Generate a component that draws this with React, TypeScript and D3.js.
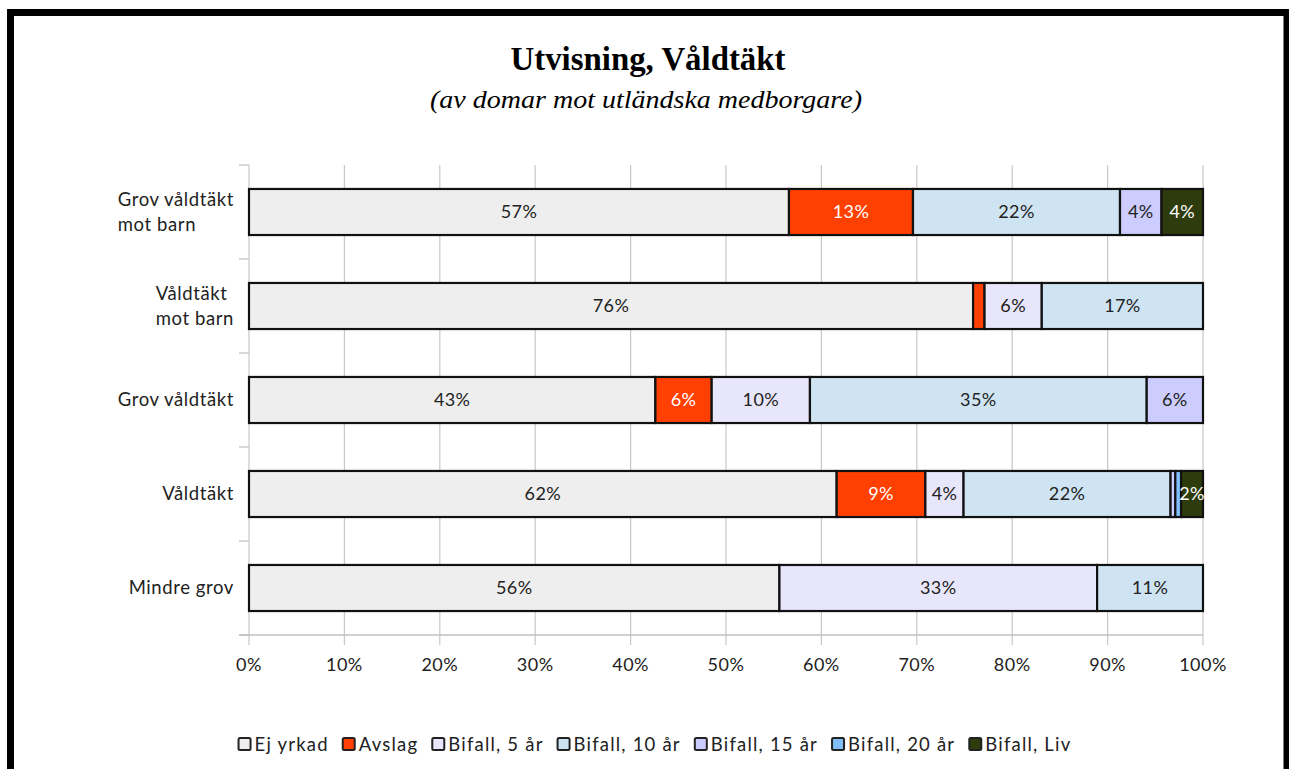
import React, { useEffect, useRef } from "react";
import * as d3 from "d3";

const categories = ["Grov våldtäkt|mot barn", "Våldtäkt|mot barn", "Grov våldtäkt", "Våldtäkt", "Mindre grov"];
const seriesNames = ["Ej yrkad", "Avslag", "Bifall, 5 år", "Bifall, 10 år", "Bifall, 15 år", "Bifall, 20 år", "Bifall, Liv"];
const ejYrkad = [56.6, 75.9, 42.6, 61.6, 55.6];
const avslag = [13.0, 1.2, 5.9, 9.3, 0];
const bifall5 = [0, 6.0, 10.3, 4.0, 33.3];
const bifall10 = [21.7, 16.9, 35.3, 21.7, 11.1];
const bifall15 = [4.35, 0, 5.9, 0.5, 0];
const bifall20 = [0, 0, 0, 0.6, 0];
const bifallLiv = [4.35, 0, 0, 2.3, 0];
const seriesColors = ["#eeeeee", "#ff4000", "#e8e6fb", "#cfe4f3", "#ccccff", "#80c0ff", "#2e3b0c"];
const labelColors = ["#222", "#fff", "#222", "#222", "#222", "#222", "#fff"];
const xTicks = [0, 10, 20, 30, 40, 50, 60, 70, 80, 90, 100];

const W = 1289, H = 769;
const FONT = "Lato, 'Open Sans', sans-serif";

export default function App() {
  const ref = useRef<SVGSVGElement>(null);
  useEffect(() => {
    const svg = d3.select(ref.current);
    svg.selectAll("*").remove();
    const series = [ejYrkad, avslag, bifall5, bifall10, bifall15, bifall20, bifallLiv];
    const rows = categories.map((c, i) => {
      const r: any = { cat: c };
      seriesNames.forEach((s, j) => (r[s] = series[j][i]));
      return r;
    });
    const stack = d3.stack<any>().keys(seriesNames)(rows);

    const x = d3.scaleLinear().domain([0, 100]).range([249, 1203]);
    const y = d3.scaleBand<string>().domain(categories).range([165, 635]).paddingInner(0.51).paddingOuter(0.255);
    const band = d3.scaleBand<string>().domain(categories).range([165, 635]);

    svg.append("rect").attr("width", W).attr("height", H).attr("fill", "#fff");
    svg.append("rect").attr("x", 10.5).attr("y", 12.5).attr("width", 1276.5).attr("height", 820)
      .attr("fill", "none").attr("stroke", "#000").attr("stroke-width", 7);

    svg.append("text").attr("x", 648).attr("y", 70).attr("text-anchor", "middle")
      .attr("font-family", "'Liberation Serif', serif").attr("font-weight", "bold").attr("font-size", 33)
      .attr("textLength", 275).attr("lengthAdjust", "spacingAndGlyphs")
      .text("Utvisning, Våldtäkt");
    svg.append("text").attr("x", 646).attr("y", 108).attr("text-anchor", "middle")
      .attr("font-family", "'Liberation Serif', serif").attr("font-style", "italic").attr("font-size", 26)
      .attr("textLength", 432).attr("lengthAdjust", "spacingAndGlyphs")
      .text("(av domar mot utländska medborgare)");

    // gridlines
    svg.append("g").selectAll("line").data(xTicks).join("line")
      .attr("x1", d => x(d)).attr("x2", d => x(d)).attr("y1", 165).attr("y2", 645)
      .attr("stroke", "#c8c8c8").attr("stroke-width", 1.2);
    // bottom axis line
    svg.append("line").attr("x1", x(0) - 10).attr("x2", x(100)).attr("y1", 635).attr("y2", 635)
      .attr("stroke", "#c0c0c0").attr("stroke-width", 1.5);
    // left ticks
    const bounds = categories.map(c => band(c)!).concat([635]);
    svg.append("g").selectAll("line").data(bounds).join("line")
      .attr("x1", x(0) - 10).attr("x2", x(0)).attr("y1", d => d).attr("y2", d => d)
      .attr("stroke", "#c0c0c0").attr("stroke-width", 1.2);

    svg.append("g").selectAll("text").data(xTicks).join("text")
      .attr("x", d => x(d)).attr("y", 671).attr("text-anchor", "middle")
      .attr("font-family", FONT).attr("font-size", 18).attr("letter-spacing", 0.5).attr("fill", "#222")
      .text(d => d + "%");

    // category labels (left-aligned block, right edge at 234)
    const catG = svg.append("g");
    categories.forEach(c => {
      const lines = c.split("|");
      const cy = y(c)! + y.bandwidth() / 2;
      const lh = 25;
      const g = catG.append("g");
      const texts = lines.map((l, k) =>
        g.append("text").attr("x", 0).attr("y", cy + (k - (lines.length - 1) / 2) * lh + 6)
          .attr("font-family", FONT).attr("font-size", 18.5)
          .attr("letter-spacing", 0.6).attr("fill", "#222")
          .text(l)
      );
      const maxW = d3.max(texts, t => (t.node() as SVGTextElement).getComputedTextLength()) || 0;
      g.attr("transform", `translate(${234 - maxW},0)`);
    });

    // bars
    stack.forEach((s, j) => {
      const g = svg.append("g");
      s.forEach((d: any) => {
        const w = x(d[1]) - x(d[0]);
        if (w <= 0) return;
        g.append("rect").attr("x", x(d[0])).attr("y", y(d.data.cat)!).attr("width", w)
          .attr("height", y.bandwidth()).attr("fill", seriesColors[j])
          .attr("stroke", "#111").attr("stroke-width", 2.2);
      });
    });
    stack.forEach((s, j) => {
      s.forEach((d: any) => {
        const v = d[1] - d[0];
        if (v < 1.5) return;
        svg.append("text").attr("x", x((d[0] + d[1]) / 2)).attr("y", y(d.data.cat)! + y.bandwidth() / 2 + 6)
          .attr("text-anchor", "middle").attr("font-family", FONT).attr("font-size", 18)
          .attr("letter-spacing", 0.4)
          .attr("fill", labelColors[j]).text(d3.format(".0f")(v) + "%");
      });
    });

    // legend
    const lg = svg.append("g");
    let cx = 0;
    seriesNames.forEach((n, j) => {
      const it = lg.append("g");
      it.append("rect").attr("x", 0).attr("y", -13).attr("width", 12).attr("height", 12)
        .attr("fill", seriesColors[j]).attr("stroke", "#222").attr("stroke-width", 2).attr("rx", 1.5);
      const t = it.append("text").attr("x", 16).attr("y", 0).attr("font-family", FONT).attr("font-size", 18.5)
        .attr("letter-spacing", 1.2).attr("fill", "#222").text(n);
      const tw = (t.node() as SVGTextElement).getComputedTextLength();
      it.attr("transform", `translate(${cx},0)`);
      cx += 16 + tw + 14;
    });
    const total = cx - 14;
    lg.attr("transform", `translate(${655 - total / 2},751)`);
  }, []);
  return (
    <svg ref={ref} width={W} height={H} style={{ position: "absolute", left: 0, top: 0 }} />
  );
}
